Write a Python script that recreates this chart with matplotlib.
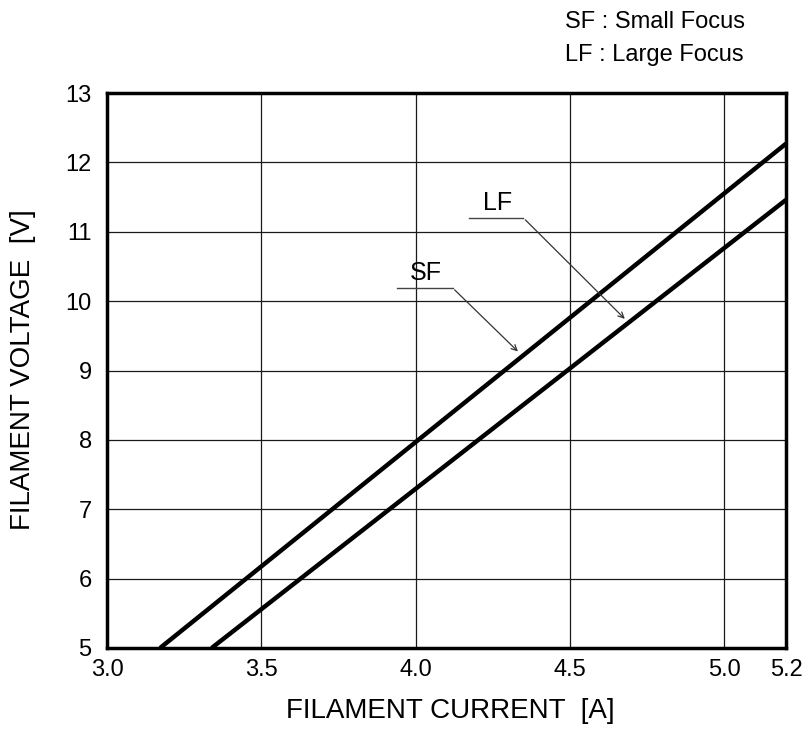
import matplotlib.pyplot as plt

plt.rcParams['font.family'] = ['Liberation Sans', 'DejaVu Sans']

# filament voltage vs current
sf_current = [3.172, 5.2]
sf_voltage = [5.0, 12.27]
lf_current = [3.339, 5.2]
lf_voltage = [5.0, 11.46]

x_ticks = [3.0, 3.5, 4.0, 4.5, 5.0, 5.2]
x_labels = ['3.0', '3.5', '4.0', '4.5', '5.0', '5.2']
y_ticks = [5, 6, 7, 8, 9, 10, 11, 12, 13]

fig = plt.figure(figsize=(8.09, 7.34), dpi=100)
ax = fig.add_axes([107 / 809, 1 - 648 / 734, (786 - 107) / 809, (648 - 93) / 734])

ax.plot(sf_current, sf_voltage, color='black', lw=3.2, solid_capstyle='butt')
ax.plot(lf_current, lf_voltage, color='black', lw=3.2, solid_capstyle='butt')

ax.set_xlim(3.0, 5.2)
ax.set_ylim(5, 13)
ax.set_xticks(x_ticks)
ax.set_xticklabels(x_labels)
ax.set_yticks(y_ticks)
ax.tick_params(length=0, labelsize=17)
ax.tick_params(axis='x', pad=8)
ax.tick_params(axis='y', pad=11)
ax.grid(True, color='#1a1a1a', lw=0.9)
for s in ax.spines.values():
    s.set_linewidth(2.5)

ax.set_xlabel('FILAMENT CURRENT  [A]', fontsize=20)
ax.set_ylabel('FILAMENT VOLTAGE  [V]', fontsize=20)
ax.xaxis.set_label_coords(0.506, -0.1135)
ax.xaxis.label.set_va('center')
ax.yaxis.set_label_coords(-0.1237, 0.501)
ax.yaxis.label.set_va('center')

# leader lines for the curve labels
ax.plot([3.939, 4.12], [10.19, 10.19], color='#444444', lw=1)
ax.annotate('', xy=(4.338, 9.246), xytext=(4.12, 10.19),
            arrowprops=dict(arrowstyle='->', color='#333333', lw=0.9))
ax.text(4.034, 10.30, 'SF', fontsize=18, ha='center', va='baseline')

ax.plot([4.174, 4.349], [11.2, 11.2], color='#444444', lw=1)
ax.annotate('', xy=(4.684, 9.716), xytext=(4.349, 11.2),
            arrowprops=dict(arrowstyle='->', color='#333333', lw=0.9))
ax.text(4.264, 11.31, 'LF', fontsize=18, ha='center', va='baseline')

fig.text(565 / 809, 1 - 22 / 734, 'SF : Small Focus', fontsize=17, va='center')
fig.text(565 / 809, 1 - 55 / 734, 'LF : Large Focus', fontsize=17, va='center')

plt.savefig('out.png', dpi=100)
